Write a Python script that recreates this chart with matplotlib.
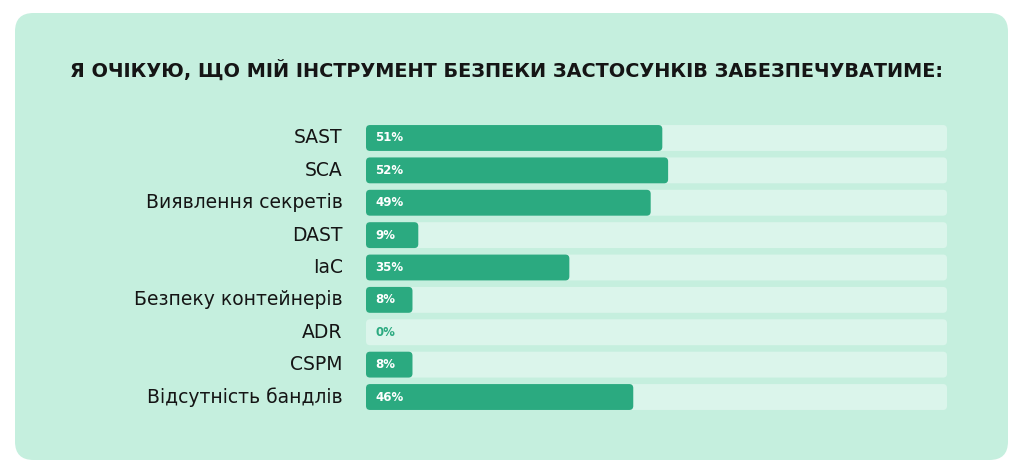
import matplotlib.pyplot as plt
from matplotlib.patches import FancyBboxPatch

plt.rcParams['font.family'] = ['DejaVu Sans']

# data
title = "Я ОЧІКУЮ, ЩО МІЙ ІНСТРУМЕНТ БЕЗПЕКИ ЗАСТОСУНКІВ ЗАБЕЗПЕЧУВАТИМЕ:"
categories = ["SAST", "SCA", "Виявлення секретів", "DAST", "IaC",
              "Безпеку контейнерів", "ADR", "CSPM", "Відсутність бандлів"]
values = [51, 52, 49, 9, 35, 8, 0, 8, 46]

card_color = "#c5efde"
track_color = "#dbf5eb"
bar_color = "#2baa80"
text_color = "#151515"

W, H = 1024, 474
fig = plt.figure(figsize=(W / 100, H / 100), dpi=100)
fig.patch.set_facecolor("white")

# background card
card = FancyBboxPatch((15 / W, 1 - 460 / H), 993 / W, 447 / H,
                      boxstyle="round,pad=0,rounding_size=0.018",
                      mutation_aspect=W / H, transform=fig.transFigure,
                      facecolor=card_color, edgecolor="none", zorder=-10)
fig.add_artist(card)

fig.text(70 / W, 1 - 70 / H, title, fontsize=13.9, fontweight="bold",
         color=text_color, ha="left", va="center")

# axes for bars
ax = fig.add_axes([366 / W, 1 - 413.2 / H, 581 / W, 291.4 / H])
ax.set_xlim(0, 100)
ax.set_ylim(len(categories) - 0.5, -0.5)
ax.axis("off")

px_x = 581 / 100
px_y = 291.4 / len(categories)
aspect = px_x / px_y
r = 4 / px_x
bh = 0.8

for i, (cat, v) in enumerate(zip(categories, values)):
    ax.add_patch(FancyBboxPatch((0, i - bh / 2), 100, bh,
                                boxstyle=f"round,pad=0,rounding_size={r}",
                                mutation_aspect=aspect,
                                facecolor=track_color, edgecolor="none"))
    if v > 0:
        ax.add_patch(FancyBboxPatch((0, i - bh / 2), v, bh,
                                    boxstyle=f"round,pad=0,rounding_size={r}",
                                    mutation_aspect=aspect,
                                    facecolor=bar_color, edgecolor="none"))
    ax.text(1.6, i, f"{v}%", fontsize=8.5, fontweight="bold",
            color="white" if v > 0 else bar_color, ha="left", va="center")
    ax.text(-4, i, cat, fontsize=13.5, color=text_color,
            ha="right", va="center")

fig.savefig("out.png", dpi=100, facecolor="white")
